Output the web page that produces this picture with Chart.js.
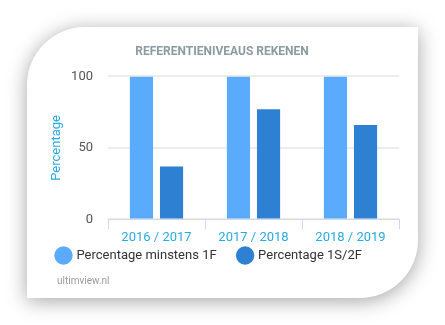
<!DOCTYPE html>
<html><head><meta charset="utf-8">
<script src="https://cdn.jsdelivr.net/npm/chart.js@4/dist/chart.umd.min.js"></script>
<style>
html,body{margin:0;padding:0;background:#fff;width:445px;height:325px;overflow:hidden;font-family:Roboto,sans-serif}
#card{position:absolute;left:27px;top:27px;width:391px;height:271px;background:#fff;border-radius:58px 0 58px 0;box-shadow:0 3px 20px rgba(0,0,0,0.36)}
#wrap{position:absolute;left:0;top:0;width:445px;height:325px}
#wm{position:absolute;left:57px;top:275px;font-size:10px;color:#9a9a9a;font-family:Roboto,sans-serif}
</style></head>
<body>
<div id="card"></div>
<div id="wrap"><canvas id="c" width="445" height="325"></canvas></div>
<div id="wm">ultimview.nl</div>
<script>
const categories = ["2016 / 2017", "2017 / 2018", "2018 / 2019"];
const seriesNames = ["Percentage minstens 1F", "Percentage 1S/2F"];
const minstens1F = [100, 100, 100];
const pct1S2F = [37, 77, 66];
const yTicks = [0, 50, 100];

const boxShift = {
  id: 'boxShift',
  afterLayout(chart){
    const lg = chart.legend;
    if (lg) { lg.top -= 20; lg.bottom -= 20; }
    const tb = chart.titleBlock;
    if (tb) { tb.left += 5; tb.right += 5; }
  }
};

new Chart(document.getElementById('c'), {
  type: 'bar',
  data: {
    labels: categories,
    datasets: [
      {label: seriesNames[0], data: minstens1F, backgroundColor: '#5aabfb', barPercentage: 0.77, categoryPercentage: 0.62},
      {label: seriesNames[1], data: pct1S2F, backgroundColor: '#2e80d3', barPercentage: 0.77, categoryPercentage: 0.62}
    ]
  },
  plugins: [boxShift],
  options: {
    responsive: false,
    animation: false,
    layout: {padding: {left: 35, right: 46, top: 45, bottom: 33}},
    plugins: {
      title: {display: true, text: 'REFERENTIENIVEAUS REKENEN', color: '#8b9ba3',
        font: {family: 'Roboto', size: 12, weight: 'bold'}, padding: {top: 0, bottom: 17}},
      legend: {position: 'bottom', align: 'start',
        labels: {usePointStyle: true, pointStyle: 'circle', boxWidth: 13, boxHeight: 13, padding: 22,
          color: '#333', font: {family: 'Roboto', size: 13}}},
      tooltip: {enabled: false}
    },
    scales: {
      x: {
        grid: {offset: true, drawOnChartArea: false, drawTicks: true, tickLength: 10, color: '#cfdaf0'},
        border: {color: '#cfdaf0'},
        ticks: {color: '#29aae2', font: {family: 'Roboto', size: 13}, padding: 1}
      },
      y: {
        min: 0, max: 100,
        afterFit(s){ s.width = 73; },
        afterBuildTicks(s){ s.ticks = yTicks.map(v => ({value: v})); },
        grid: {color: '#ececec', drawTicks: false, lineWidth: 2},
        border: {display: false},
        ticks: {color: '#555', font: {family: 'Roboto', size: 13}, padding: 15},
        title: {display: true, text: 'Percentage', color: '#29aae2', font: {family: 'Roboto', size: 13}, padding: {top: 14, bottom: 0}}
      }
    }
  }
});
</script>
</body></html>
